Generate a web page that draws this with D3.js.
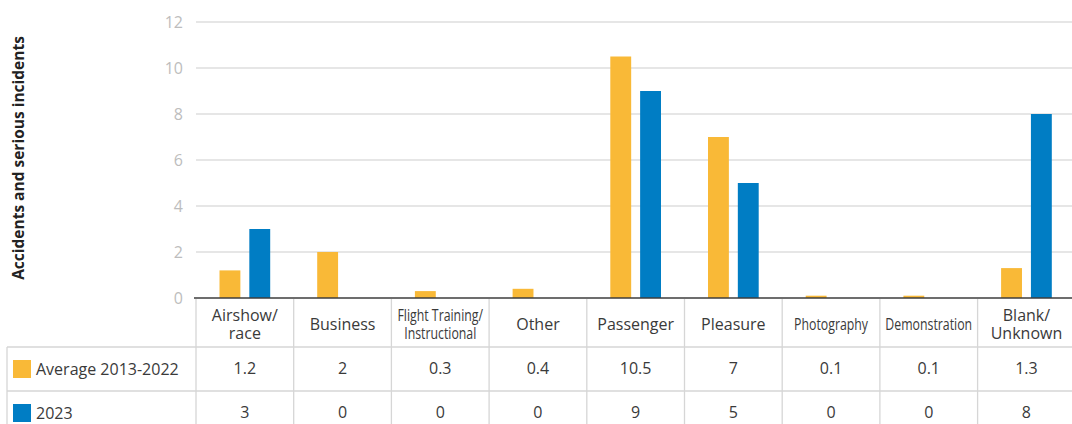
<!DOCTYPE html>
<html>
<head>
<meta charset="utf-8">
<script src="https://cdn.jsdelivr.net/npm/d3@7"></script>
<style>
    body { margin: 0; background: #fff; }
    svg text { font-family: "Open Sans", "Noto Sans", sans-serif; }
</style>
</head>
<body>
<script>
// categories (multi-line labels split with "\n") and the two series
var categories = ["Airshow/\nrace", "Business", "Flight Training/\nInstructional",
    "Other", "Passenger", "Pleasure", "Photography", "Demonstration",
    "Blank/\nUnknown"];
var seriesNames = ["Average 2013-2022", "2023"];
var avgValues = [1.2, 2, 0.3, 0.4, 10.5, 7, 0.1, 0.1, 1.3];
var values2023 = [3, 0, 0, 0, 9, 5, 0, 0, 8];
var yTicks = [0, 2, 4, 6, 8, 10, 12];
var yTitle = "Accidents and serious incidents";

var colors = ["#F9B937", "#007DC4"];
var W = 1072, H = 424;
var left = 196, colW = 97.7;
var plotTop = 22, plotBottom = 298;
var row1 = 347, row2 = 391;
var gridColor = "#dedede", textColor = "#3a3a3a";
var fs = "16px";

var svg = d3.select("body").append("svg")
    .attr("width", W)
    .attr("height", H);

var x0 = d3.scaleBand()
    .domain(d3.range(categories.length))
    .range([left, left + colW * categories.length]);

var x1 = d3.scaleBand()
    .domain(seriesNames)
    .range([23.5, colW - 23.5])
    .paddingInner(0.3);

var y = d3.scaleLinear().domain([0, 12]).range([plotBottom, plotTop]);

// gridlines and tick labels
svg.append("g").selectAll("line")
    .data(yTicks.slice(1))
    .enter().append("line")
    .attr("x1", left).attr("x2", W)
    .attr("y1", d => y(d)).attr("y2", d => y(d))
    .attr("stroke", gridColor).attr("stroke-width", 1.5);

svg.append("g").selectAll("text")
    .data(yTicks)
    .enter().append("text")
    .attr("x", 183)
    .attr("y", d => y(d))
    .attr("dy", "0.35em")
    .attr("text-anchor", "end")
    .attr("fill", "#bdbdbd")
    .attr("font-size", fs)
    .text(d => d);

svg.append("text")
    .attr("transform", "translate(24," + ((plotTop + plotBottom) / 2 - 2) +
        ") rotate(-90)")
    .attr("text-anchor", "middle")
    .attr("font-size", "15.5px")
    .attr("font-weight", "bold")
    .attr("fill", "#222")
    .text(yTitle);

// bars
var series = [avgValues, values2023];
var bars = [];
categories.forEach(function(c, i) {
    series.forEach(function(s, j) {
        bars.push({cat: i, name: seriesNames[j], value: s[i], color: colors[j]});
    });
});

svg.append("g").selectAll("rect")
    .data(bars)
    .enter().append("rect")
    .attr("x", d => x0(d.cat) + x1(d.name))
    .attr("y", d => y(d.value))
    .attr("width", x1.bandwidth())
    .attr("height", d => plotBottom - y(d.value))
    .attr("fill", d => d.color);

// baseline
svg.append("line")
    .attr("x1", left - 2).attr("x2", W)
    .attr("y1", plotBottom).attr("y2", plotBottom)
    .attr("stroke", "#3c3c3c").attr("stroke-width", 1.5);

// data table lines
var table = svg.append("g")
    .attr("stroke", "#d6d6d6").attr("stroke-width", 1.3);

table.selectAll("line.v")
    .data(d3.range(categories.length + 1))
    .enter().append("line")
    .attr("x1", d => left + d * colW).attr("x2", d => left + d * colW)
    .attr("y1", plotBottom + 1).attr("y2", H);

table.append("line")
    .attr("x1", 7).attr("x2", 7).attr("y1", row1).attr("y2", H);

[row1, row2].forEach(function(r) {
    table.append("line")
        .attr("x1", 7).attr("x2", W).attr("y1", r).attr("y2", r);
});

// category headers, condensed when a line is too wide for the cell
var headers = svg.append("g").selectAll("text")
    .data(categories)
    .enter().append("text")
    .attr("font-size", fs)
    .attr("fill", textColor)
    .attr("text-anchor", "middle");

headers.each(function(c, i) {
    var lines = c.split("\n");
    var cx = x0(i) + colW / 2;
    var t = d3.select(this);
    var y0 = lines.length === 1 ? 330 : 321;
    lines.forEach(function(l, k) {
        t.append("tspan")
            .attr("x", 0)
            .attr("y", y0 + k * 18)
            .text(l);
    });
    var wMax = 0;
    t.selectAll("tspan").each(function() {
        wMax = Math.max(wMax, this.getComputedTextLength());
    });
    var sx = wMax > 84 ? 0.77 : 1;
    t.attr("transform", "translate(" + cx + ",0) scale(" + sx + ",1)");
});

// legend cells and values
var rowsY = [row1, row2];
series.forEach(function(s, j) {
    var top = rowsY[j];
    svg.append("rect")
        .attr("x", 13).attr("y", top + 13)
        .attr("width", 18).attr("height", 18)
        .attr("fill", colors[j]);
    svg.append("text")
        .attr("x", 36).attr("y", top + 22)
        .attr("dy", "0.35em")
        .attr("font-size", fs)
        .attr("fill", textColor)
        .text(seriesNames[j]);
    svg.append("g").selectAll("text")
        .data(s)
        .enter().append("text")
        .attr("x", (d, i) => x0(i) + colW / 2)
        .attr("y", top + 21)
        .attr("dy", "0.35em")
        .attr("text-anchor", "middle")
        .attr("font-size", fs)
        .attr("fill", textColor)
        .text(d => d);
});
</script>
</body>
</html>
